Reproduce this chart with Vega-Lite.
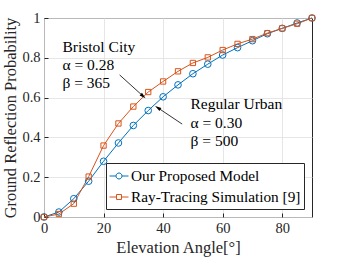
{
  "$schema": "https://vega.github.io/schema/vega-lite/v6.json",
  "width": 268,
  "height": 199,
  "autosize": "none",
  "padding": {"left": 44, "top": 18, "right": 34, "bottom": 43},
  "background": "white",
  "config": {
    "view": {"stroke": "#262626", "strokeWidth": 1},
    "font": "Liberation Serif",
    "axis": {
      "domain": false,
      "gridColor": "#e0e0e0",
      "gridWidth": 0.8,
      "tickColor": "#262626",
      "tickSize": -4,
      "labelPadding": 8,
      "labelOverlap": false,
      "labelBound": false,
      "labelFlush": false,
      "format": "~r",
      "labelFont": "Liberation Serif",
      "labelFontSize": 14.5,
      "labelColor": "#262626",
      "titleFont": "Liberation Serif",
      "titleFontSize": 16.5,
      "titleFontWeight": "normal",
      "titleColor": "#262626"
    }
  },
  "datasets": {
    "curves": [
      {"angle": 0, "p": 0, "series": "Our Proposed Model"},
      {"angle": 5, "p": 0.025, "series": "Our Proposed Model"},
      {"angle": 10, "p": 0.092, "series": "Our Proposed Model"},
      {"angle": 15, "p": 0.18, "series": "Our Proposed Model"},
      {"angle": 20, "p": 0.28, "series": "Our Proposed Model"},
      {"angle": 25, "p": 0.372, "series": "Our Proposed Model"},
      {"angle": 30, "p": 0.46, "series": "Our Proposed Model"},
      {"angle": 35, "p": 0.535, "series": "Our Proposed Model"},
      {"angle": 40, "p": 0.604, "series": "Our Proposed Model"},
      {"angle": 45, "p": 0.664, "series": "Our Proposed Model"},
      {"angle": 50, "p": 0.72, "series": "Our Proposed Model"},
      {"angle": 55, "p": 0.768, "series": "Our Proposed Model"},
      {"angle": 60, "p": 0.814, "series": "Our Proposed Model"},
      {"angle": 65, "p": 0.851, "series": "Our Proposed Model"},
      {"angle": 70, "p": 0.886, "series": "Our Proposed Model"},
      {"angle": 75, "p": 0.921, "series": "Our Proposed Model"},
      {"angle": 80, "p": 0.948, "series": "Our Proposed Model"},
      {"angle": 85, "p": 0.975, "series": "Our Proposed Model"},
      {"angle": 90, "p": 1.0, "series": "Our Proposed Model"},
      {"angle": 0, "p": 0, "series": "Ray-Tracing Simulation [9]"},
      {"angle": 5, "p": 0.015, "series": "Ray-Tracing Simulation [9]"},
      {"angle": 10, "p": 0.067, "series": "Ray-Tracing Simulation [9]"},
      {"angle": 15, "p": 0.203, "series": "Ray-Tracing Simulation [9]"},
      {"angle": 20, "p": 0.359, "series": "Ray-Tracing Simulation [9]"},
      {"angle": 25, "p": 0.47, "series": "Ray-Tracing Simulation [9]"},
      {"angle": 30, "p": 0.555, "series": "Ray-Tracing Simulation [9]"},
      {"angle": 35, "p": 0.628, "series": "Ray-Tracing Simulation [9]"},
      {"angle": 40, "p": 0.681, "series": "Ray-Tracing Simulation [9]"},
      {"angle": 45, "p": 0.732, "series": "Ray-Tracing Simulation [9]"},
      {"angle": 50, "p": 0.774, "series": "Ray-Tracing Simulation [9]"},
      {"angle": 55, "p": 0.802, "series": "Ray-Tracing Simulation [9]"},
      {"angle": 60, "p": 0.839, "series": "Ray-Tracing Simulation [9]"},
      {"angle": 65, "p": 0.87, "series": "Ray-Tracing Simulation [9]"},
      {"angle": 70, "p": 0.894, "series": "Ray-Tracing Simulation [9]"},
      {"angle": 75, "p": 0.924, "series": "Ray-Tracing Simulation [9]"},
      {"angle": 80, "p": 0.948, "series": "Ray-Tracing Simulation [9]"},
      {"angle": 85, "p": 0.971, "series": "Ray-Tracing Simulation [9]"},
      {"angle": 90, "p": 1.0, "series": "Ray-Tracing Simulation [9]"}
    ],
    "labels": [
      {"x": 6.2, "y": 0.854, "text": "Bristol City"},
      {"x": 6.2, "y": 0.764, "text": "α = 0.28"},
      {"x": 6.2, "y": 0.673, "text": "β = 365"},
      {"x": 49.2, "y": 0.568, "text": "Regular Urban"},
      {"x": 49.2, "y": 0.472, "text": "α = 0.30"},
      {"x": 49.2, "y": 0.382, "text": "β = 500"}
    ],
    "arrows": [
      {"name": "bristol", "x": 25.4, "y": 0.714, "x2": 33.3, "y2": 0.607},
      {"name": "urban", "x": 46.4, "y": 0.467, "x2": 38.2, "y2": 0.549}
    ]
  },
  "layer": [
    {
      "data": {"name": "curves"},
      "mark": {"type": "line", "strokeWidth": 1},
      "encoding": {
        "x": {
          "field": "angle", "type": "quantitative",
          "scale": {"domain": [0, 90], "nice": false},
          "axis": {"tickCount": 5, "title": "Elevation Angle[°]", "titlePadding": 5}
        },
        "y": {
          "field": "p", "type": "quantitative",
          "scale": {"domain": [0, 1], "nice": false},
          "axis": {"tickCount": 5, "title": "Ground Reflection Probability", "titlePadding": 3}
        },
        "color": {
          "field": "series", "type": "nominal",
          "scale": {"domain": ["Our Proposed Model", "Ray-Tracing Simulation [9]"], "range": ["#0072BD", "#D95319"]},
          "legend": {
            "title": null,
            "orient": "bottom-right",
            "offset": 8,
            "strokeColor": "#262626",
            "fillColor": "white",
            "padding": 3,
            "rowPadding": 2,
            "labelFont": "Liberation Serif",
            "labelFontSize": 15.3,
            "labelColor": "black",
            "labelOffset": 2,
            "labelLimit": 300,
            "symbolSize": 361,
            "symbolStrokeWidth": 1,
            "symbolFillColor": "transparent",
            "encode": {
              "symbols": {
                "update": {
                  "shape": {"signal": "datum.value === 'Our Proposed Model' ? 'M-1,0H-0.316M0.316,0H1M-0.316,0A0.316,0.316 0 1,0 0.316,0A0.316,0.316 0 1,0 -0.316,0' : 'M-1,0H-0.26M0.26,0H1M-0.26,-0.26H0.26V0.26H-0.26Z'"},
                  "fill": {"value": "transparent"}
                }
              }
            }
          }
        }
      }
    },
    {
      "data": {"name": "curves"},
      "transform": [{"filter": "datum.series === 'Our Proposed Model'"}],
      "mark": {"type": "point", "shape": "circle", "filled": false, "size": 44, "strokeWidth": 1, "opacity": 1},
      "encoding": {
        "x": {"field": "angle", "type": "quantitative"},
        "y": {"field": "p", "type": "quantitative"},
        "color": {"field": "series", "type": "nominal", "legend": null}
      }
    },
    {
      "data": {"name": "curves"},
      "transform": [{"filter": "datum.series !== 'Our Proposed Model'"}],
      "mark": {"type": "point", "shape": "square", "filled": false, "size": 28, "strokeWidth": 1, "opacity": 1},
      "encoding": {
        "x": {"field": "angle", "type": "quantitative"},
        "y": {"field": "p", "type": "quantitative"},
        "color": {"field": "series", "type": "nominal", "legend": null}
      }
    },
    {
      "data": {"name": "labels"},
      "mark": {"type": "text", "align": "left", "baseline": "middle", "fontSize": 15.5, "font": "Liberation Serif", "color": "black"},
      "encoding": {
        "x": {"field": "x", "type": "quantitative"},
        "y": {"field": "y", "type": "quantitative"},
        "text": {"field": "text"}
      }
    },
    {
      "data": {"name": "arrows"},
      "mark": {"type": "rule", "color": "black", "strokeWidth": 0.8},
      "encoding": {
        "x": {"field": "x", "type": "quantitative"},
        "y": {"field": "y", "type": "quantitative"},
        "x2": {"field": "x2"},
        "y2": {"field": "y2"}
      }
    },
    {
      "data": {"name": "arrows"},
      "transform": [{"filter": "datum.name === 'bristol'"}],
      "mark": {"type": "point", "shape": "M0,-1L0.55,1L-0.55,1Z", "filled": true, "color": "black", "size": 40, "angle": 132, "opacity": 1},
      "encoding": {
        "x": {"field": "x2", "type": "quantitative"},
        "y": {"field": "y2", "type": "quantitative"}
      }
    },
    {
      "data": {"name": "arrows"},
      "transform": [{"filter": "datum.name === 'urban'"}],
      "mark": {"type": "point", "shape": "M0,-1L0.55,1L-0.55,1Z", "filled": true, "color": "black", "size": 40, "angle": 303, "opacity": 1},
      "encoding": {
        "x": {"field": "x2", "type": "quantitative"},
        "y": {"field": "y2", "type": "quantitative"}
      }
    }
  ]
}
